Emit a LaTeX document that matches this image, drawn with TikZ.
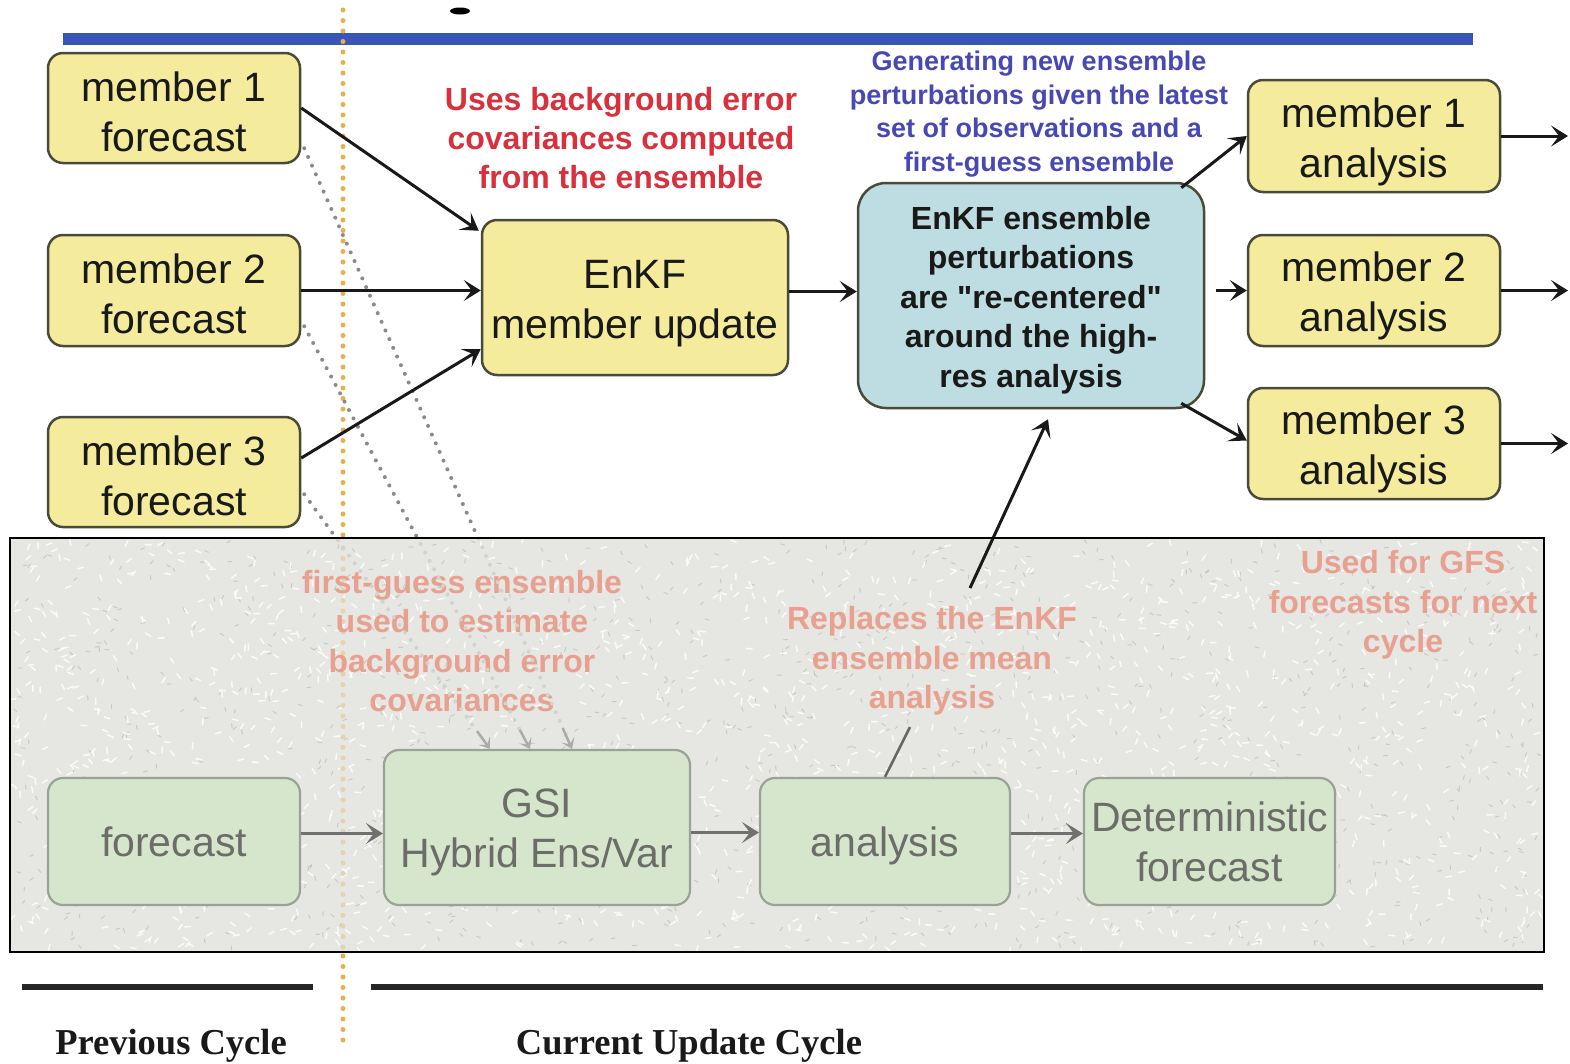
\documentclass[tikz,border=0pt]{standalone}
\usepackage{fontspec}
\setmainfont{Liberation Sans}[Ligatures=TeXOff]
\newfontfamily\capserif{Liberation Serif}
\usetikzlibrary{arrows.meta,calc}

\definecolor{yel}{HTML}{F4EC9C}
\definecolor{boxline}{HTML}{4A4A3A}
\definecolor{cyanbox}{HTML}{BEDDE2}
\definecolor{titleblue}{HTML}{3A56B4}
\definecolor{notered}{HTML}{D8303C}
\definecolor{noteblue}{HTML}{4848B4}
\definecolor{dotorange}{HTML}{E8B04C}
\definecolor{dotgray}{HTML}{8A8A8A}
\definecolor{panelbg}{HTML}{E6E6E2}
\definecolor{paleorange}{HTML}{E4D2B0}
\definecolor{palegreen}{HTML}{D6E6CC}
\definecolor{paleline}{HTML}{9AA296}
\definecolor{paletext}{HTML}{6C6C68}
\definecolor{palenote}{HTML}{E8A090}
\definecolor{paledot}{HTML}{ABABAB}
\definecolor{fadedot}{HTML}{D2D2CF}
\definecolor{palearrow}{HTML}{707070}

% box text, set a little below the geometric centre of its box
\newcommand\boxtext[2][-5pt]{\raisebox{#1}[\height][\depth]{\begin{tabular}{@{}c@{}}#2\end{tabular}}}

\begin{document}
\begin{tikzpicture}[x=1pt,y=-1pt,
  sz/.style 2 args={minimum width=#1pt, minimum height=#2pt},
  fbox/.style={draw=boxline, line width=2.5pt, fill=yel, rounded corners=15pt,
    inner sep=0pt, text=black!90, font=\fontsize{41}{50}\selectfont},
  cbox/.style={draw=boxline, line width=2.5pt, fill=cyanbox, rounded corners=28pt,
    inner sep=0pt, text=black!90, font=\fontsize{32}{39.5}\selectfont\bfseries},
  pbox/.style={draw=paleline, line width=2.2pt, fill=palegreen, rounded corners=15pt,
    inner sep=0pt, text=paletext, font=\fontsize{41}{50}\selectfont},
  rednote/.style={align=center, text=notered, font=\fontsize{32}{39}\selectfont\bfseries},
  bluenote/.style={align=center, text=noteblue, font=\fontsize{27}{33.5}\selectfont\bfseries},
  palenote/.style={align=center, text=palenote, font=\fontsize{32}{39.5}\selectfont\bfseries},
  cyclelabel/.style={font=\capserif\bfseries\fontsize{36.5}{40}\selectfont, text=black!90},
  tip/.style={-{Stealth[length=17pt,width=21pt,inset=8pt]}},
  arr/.style={line width=3pt, black!90, tip},
  parr/.style={line width=3.2pt, palearrow, tip},
  dotline/.style={line width=4pt, line cap=round, dash pattern=on 0pt off 9.5pt},
  orangedots/.style={line width=5pt, line cap=round, dash pattern=on 0pt off 10.5pt},
]
\useasboundingbox (0,0) rectangle (1570,1063);
\fill[white] (0,0) rectangle (1570,1063);

% title rule and the tail of the title letter above it
\fill[black] (460,11) ellipse (10 and 3.5);
\fill[titleblue] (63,33) rectangle (1473,45);

% ---------------- faded panel of the deterministic cycle ----------------
\fill[panelbg] (10,538) rectangle (1544,952);
\pgfmathsetseed{42}
\foreach \k in {1,...,1100}{
  \pgfmathsetmacro{\nx}{14+1526*rnd}
  \pgfmathsetmacro{\ny}{542+406*rnd}
  \pgfmathsetmacro{\na}{360*rnd}
  \draw[black!32, line width=1pt, opacity=0.5, line cap=round] (\nx,\ny) -- ++(\na:4);
}
\foreach \k in {1,...,1700}{
  \pgfmathsetmacro{\nx}{14+1526*rnd}
  \pgfmathsetmacro{\ny}{542+406*rnd}
  \pgfmathsetmacro{\na}{360*rnd}
  \draw[white, line width=1.5pt, opacity=0.8, line cap=round] (\nx,\ny) -- ++(\na:6);
}

% cycle divider inside the panel
\draw[paleorange, orangedots] (343,548) -- (343,948);

\node[pbox, sz={252}{127}] (pf)  at (174,841.5)  {\boxtext{forecast}};
\node[pbox, sz={306}{155}] (gsi) at (537,827.5)  {\boxtext{GSI\\Hybrid Ens/Var}};
\node[pbox, sz={250}{127}] (ana) at (885,841.5)  {\boxtext{analysis}};
\node[pbox, sz={251}{127}] (det) at (1209.5,841.5) {\boxtext{Deterministic\\forecast}};

\node[palenote] (fgnote)  at (462,641)  {first-guess ensemble\\used to estimate\\background error\\covariances};
\node[palenote] (repnote) at (932,661)  {Replaces the EnKF\\ensemble mean\\analysis};
\node[palenote] (gfsnote) at (1403,605) {Used for GFS\\forecasts for next\\cycle};

\draw[parr] ([yshift=8pt]pf.east) -- ([yshift=8pt]pf.east -| gsi.west);
\draw[parr] ([yshift=-5pt]gsi.east) -- ([yshift=-5pt]gsi.east -| ana.west);
\draw[parr] ([yshift=8pt]ana.east) -- ([yshift=8pt]ana.east -| det.west);
\coordinate (repfoot) at (910,727);
\draw[line width=2.5pt, black!60] (ana.north) -- (repfoot);

% ---------------- ensemble cycle ----------------
\draw[dotorange, orangedots] (343,10) -- (343,536);
\draw[dotorange, orangedots] (343,956) -- (343,1050);

\node[fbox, sz={252}{110}] (m1) at (174,108)   {\boxtext[-8pt]{member 1\\forecast}};
\node[fbox, sz={252}{111}] (m2) at (174,290.5) {\boxtext[-8pt]{member 2\\forecast}};
\node[fbox, sz={252}{110}] (m3) at (174,472)   {\boxtext[-8pt]{member 3\\forecast}};

\node[fbox, sz={306}{155}] (enkf) at (635,297.5) {\boxtext[-6pt]{EnKF\\member update}};
\node[cbox, sz={346}{225}] (blue) at (1031,295.5)
  {\boxtext{EnKF ensemble\\perturbations\\are "re-centered"\\around the high-\\res analysis}};

\node[fbox, sz={252}{112}] (a1) at (1374,136)   {\boxtext[-6pt]{member 1\\analysis}};
\node[fbox, sz={252}{111}] (a2) at (1374,290.5) {\boxtext[-6pt]{member 2\\analysis}};
\node[fbox, sz={252}{111}] (a3) at (1374,443.5) {\boxtext[-6pt]{member 3\\analysis}};

\node[rednote]  (rednote)  at (621,138.5) {Uses background error\\covariances computed\\from the ensemble};
\node[bluenote] (bluenote) at (1039,114)  {Generating new ensemble\\perturbations given the latest\\set of observations and a\\first-guess ensemble};

% first-guess members feeding the hybrid analysis
\coordinate (s1) at ($(m1.south east)+(3,-16)$);
\coordinate (s2) at ($(m2.south east)+(3,-21)$);
\coordinate (s3) at ($(m3.south east)+(3,-34)$);
\coordinate (e1) at ($(gsi.north)+(35,0)$);
\coordinate (e2) at ($(gsi.north)+(-7,0)$);
\coordinate (e3) at ($(gsi.north)+(-47,0)$);
\begin{scope}
  \clip (0,0) rectangle (1570,537);
  \draw[dotgray, dotline] (s1) -- (e1);
  \draw[dotgray, dotline] (s2) -- (e2);
  \draw[dotgray, dotline] (s3) -- (e3);
\end{scope}
\begin{scope}
  \clip (11,539) rectangle (1543,951);
  \draw[fadedot, dotline] (s1) -- ($(s1)!0.965!(e1)$);
  \draw[fadedot, dotline] (s2) -- ($(s2)!0.955!(e2)$);
  \draw[fadedot, dotline] (s3) -- ($(s3)!0.93!(e3)$);
\end{scope}
\draw[line width=2.5pt, paledot, -{Stealth[length=10pt,width=14pt,inset=5pt]}] ($(s1)!0.965!(e1)$) -- (e1);
\draw[line width=2.5pt, paledot, -{Stealth[length=10pt,width=14pt,inset=5pt]}] ($(s2)!0.955!(e2)$) -- (e2);
\draw[line width=2.5pt, paledot, -{Stealth[length=10pt,width=14pt,inset=5pt]}] ($(s3)!0.93!(e3)$) -- (e3);

% ensemble connectors
\draw[arr] (m1.east) -- ($(enkf.north west)+(-2,12)$);
\draw[arr] (m2.east) -- (m2.east -| enkf.west);
\draw[arr] ($(m3.east)+(0,-14)$) -- ($(enkf.south west)+(0,-27)$);
\draw[arr] ([yshift=6pt]enkf.east) -- ([yshift=4pt]blue.west);
\draw[arr] ($(blue.north east)+(-24,6)$) -- (a1.west);
\draw[arr, shorten <=11pt] (blue.east |- a2.west) -- (a2.west);
\draw[arr] ($(blue.south east)+(-24,-6)$) -- ($(a3.west)+(0,-3)$);

\coordinate (o1) at (1568,136);
\coordinate (o2) at (1568,290.5);
\coordinate (o3) at (1568,443.5);
\draw[arr] (a1.east) -- (o1);
\draw[arr] (a2.east) -- (o2);
\draw[arr] (a3.east) -- (o3);

% high-res analysis re-centres the ensemble
\coordinate (reptop) at (970,588);
\draw[arr] (reptop) -- ($(blue.south)+(17,10)$);

% panel frame
\draw[black, line width=2.2pt] (10,538) rectangle (1544,952);

% cycle timeline
\draw[line width=6pt, black!85] (22,987) -- (313,987);
\draw[line width=6pt, black!85] (371,987) -- (1543,987);
\node[cyclelabel] (prevcyc) at (171,1046) {Previous Cycle};
\node[cyclelabel] (currcyc) at (689,1046) {Current Update Cycle};
\end{tikzpicture}
\end{document}
